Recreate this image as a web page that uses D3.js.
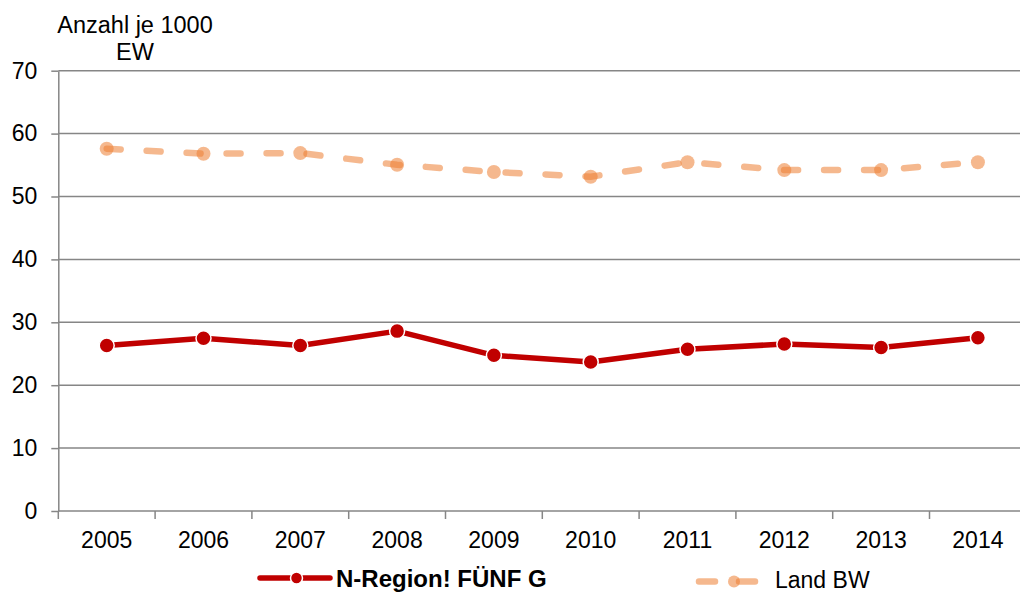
<!DOCTYPE html>
<html><head><meta charset="utf-8">
<script src="https://cdn.jsdelivr.net/npm/d3@7"></script>
<style>
html,body{margin:0;padding:0;background:#fff;}
svg{display:block;font-family:"Liberation Sans",Arial,sans-serif;}
</style></head>
<body><svg id="c" width="1020" height="592"></svg>
<script>
const years = ["2005","2006","2007","2008","2009","2010","2011","2012","2013","2014"];
const regionValues = [26.3,27.45,26.3,28.6,24.75,23.7,25.7,26.55,26.0,27.55];
const landValues = [57.6,56.8,56.9,55.05,53.9,53.15,55.45,54.2,54.2,55.45];
const yTicks = [0,10,20,30,40,50,60,70];
const seriesNames = ["N-Region! FÜNF G","Land BW"];
const yTitle = ["Anzahl je 1000","EW"];

const svg = d3.select("#c");
const FS = 23;
const left = 58.3, bandW = 96.8;
const x = d3.scaleBand().domain(years).range([left, left + bandW*years.length]).padding(0);
const y = d3.scaleLinear().domain([0,70]).range([511,70.7]);
const grey = "#868686";

// gridlines
svg.append("g").selectAll("line").data(yTicks.filter(d=>d>0)).join("line")
  .attr("x1", left).attr("x2", 1020)
  .attr("y1", d=>y(d)).attr("y2", d=>y(d))
  .attr("stroke", grey).attr("stroke-width", 1.5);

// y axis
const ya = svg.append("g").attr("transform",`translate(${left},0)`)
  .call(d3.axisLeft(y).tickValues(yTicks).tickSize(7).tickPadding(14).tickSizeOuter(0));
ya.select(".domain").attr("stroke", grey).attr("stroke-width",1.5);
ya.selectAll(".tick line").attr("stroke", grey).attr("stroke-width",1.5);
ya.selectAll("text").attr("font-size",FS).attr("fill","#000").attr("font-family","Liberation Sans, Arial, sans-serif");

// x axis
const xa = svg.append("g").attr("transform",`translate(0,${y(0)})`)
  .call(d3.axisBottom(x).tickSize(0).tickPadding(21));
xa.select(".domain").attr("stroke", grey).attr("stroke-width",1.5).attr("d", `M${left},0H1020`);
xa.selectAll("text").attr("font-size",FS).attr("fill","#000").attr("font-family","Liberation Sans, Arial, sans-serif");
// tick marks at band boundaries
svg.append("g").selectAll("line").data(years).join("line")
  .attr("x1", d=>x(d)).attr("x2", d=>x(d))
  .attr("y1", y(0)).attr("y2", y(0)+8)
  .attr("stroke", grey).attr("stroke-width",1.5);

// y title
svg.append("text").attr("x",135).attr("y",33).attr("text-anchor","middle")
  .attr("font-size",FS+0.5).text(yTitle[0]);
svg.append("text").attr("x",135).attr("y",60).attr("text-anchor","middle")
  .attr("font-size",FS+0.5).text(yTitle[1]);

const cx = d => x(d) + x.bandwidth()/2;
const line = d3.line().x(d=>cx(d[0])).y(d=>y(d[1]));

const red = "#C00000", orange = "#ED7D31";
const landData = years.map((yr,i)=>[yr,landValues[i]]);
const regData = years.map((yr,i)=>[yr,regionValues[i]]);

// Land BW
const lg = svg.append("g");
lg.append("path").datum(landData).attr("d", line).attr("fill","none")
  .attr("stroke", orange).attr("stroke-opacity",0.55).attr("stroke-width",6.5)
  .attr("stroke-linecap","round").attr("stroke-dasharray","14,26");
lg.selectAll("circle").data(landData).join("circle")
  .attr("cx", d=>cx(d[0])).attr("cy", d=>y(d[1])).attr("r",7)
  .attr("fill", orange).attr("fill-opacity",0.55);

// Region
const rg = svg.append("g");
rg.append("path").datum(regData).attr("d", line).attr("fill","none")
  .attr("stroke", red).attr("stroke-width",5.5).attr("stroke-linejoin","round");
rg.selectAll("circle").data(regData).join("circle")
  .attr("cx", d=>cx(d[0])).attr("cy", d=>y(d[1])).attr("r",7.5)
  .attr("fill", red).attr("stroke","#fff").attr("stroke-width",1.5);

// legend
const l1 = svg.append("g");
l1.append("line").attr("x1",260).attr("x2",330).attr("y1",578).attr("y2",578)
  .attr("stroke",red).attr("stroke-width",5.5).attr("stroke-linecap","round");
l1.append("circle").attr("cx",296.5).attr("cy",578).attr("r",6).attr("fill",red).attr("stroke","#fff").attr("stroke-width",1.5);
l1.append("text").attr("x",336).attr("y",587).attr("font-size",24).attr("font-weight","bold").text(seriesNames[0]);

const l2 = svg.append("g");
l2.append("line").attr("x1",699).attr("x2",759).attr("y1",581.5).attr("y2",581.5)
  .attr("stroke",orange).attr("stroke-opacity",0.55).attr("stroke-width",6.5)
  .attr("stroke-linecap","round").attr("stroke-dasharray","16,24");
l2.append("circle").attr("cx",734).attr("cy",581.5).attr("r",6).attr("fill",orange).attr("fill-opacity",0.55);
l2.append("text").attr("x",775).attr("y",588).attr("font-size",FS).text(seriesNames[1]);
</script></body></html>
